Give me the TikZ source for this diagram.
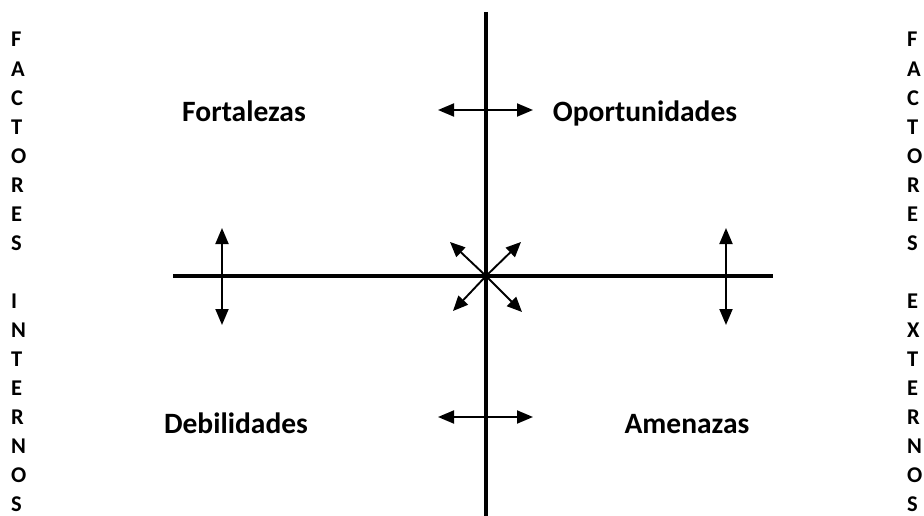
\documentclass[tikz,border=0pt]{standalone}
\usepackage{fontspec}
\setmainfont{Carlito}
\usetikzlibrary{arrows.meta,calc}

\tikzset{
  axis/.style={line width=4.5pt},
  dbl/.style={line width=1.9pt,{Triangle[length=16pt,width=13pt]}-{Triangle[length=16pt,width=13pt]}},
  one/.style={line width=1.9pt,-{Triangle[length=15pt,width=13pt]}},
  quad/.style={font=\bfseries\fontsize{29.5}{34}\selectfont,anchor=base},
  side/.style={font=\bfseries\fontsize{22.5}{26}\selectfont,anchor=base west,inner sep=0pt}
}

\begin{document}
\begin{tikzpicture}[x=1pt,y=-1pt]
  \useasboundingbox (0,0) rectangle (924,516);
  % axes
  \coordinate (vtop) at (486,12);
  \coordinate (vbot) at (486,516);
  \coordinate (hl) at (173,276);
  \coordinate (hr) at (773,276);
  \coordinate (c) at (486,276);
  \draw [axis] (vtop) -- (vbot);
  \draw [axis] (hl) -- (hr);
  % quadrant labels
  \node [quad] (fort) at (244,122) {Fortalezas};
  \node [quad] (opor) at (645,122) {Oportunidades};
  \node [quad] (debi) at (236,433) {Debilidades};
  \node [quad] (amen) at (687,433) {Amenazas};
  % double arrows
  \coordinate (tl) at (438,110); \coordinate (tr) at (533,110);
  \coordinate (bl) at (438,417); \coordinate (br) at (533,417);
  \coordinate (lu) at (222,228); \coordinate (ld) at (222,325);
  \coordinate (ru) at (726,228); \coordinate (rd) at (726,325);
  \draw [dbl] (tl) -- (tr);
  \draw [dbl] (bl) -- (br);
  \draw [dbl] (lu) -- (ld);
  \draw [dbl] (ru) -- (rd);
  % diagonal arrows from the centre
  \foreach \dx/\dy [count=\k] in {-36/-34,35/-34,-33/35,36/36}{
    \coordinate (d\k) at ($(c)+(\dx,\dy)$);
    \draw [one] (c) -- (d\k);
  }
  % side texts
  \foreach \ch [count=\i] in {F,A,C,T,O,R,E,S,{},I,N,T,E,R,N,O,S}
    \node [side] (li\i) at (11,{47+29.06*(\i-1)}) {\ch};
  \foreach \ch [count=\i] in {F,A,C,T,O,R,E,S,{},E,X,T,E,R,N,O,S}
    \node [side] (re\i) at (907,{47+29.06*(\i-1)}) {\ch};
\end{tikzpicture}
\end{document}
